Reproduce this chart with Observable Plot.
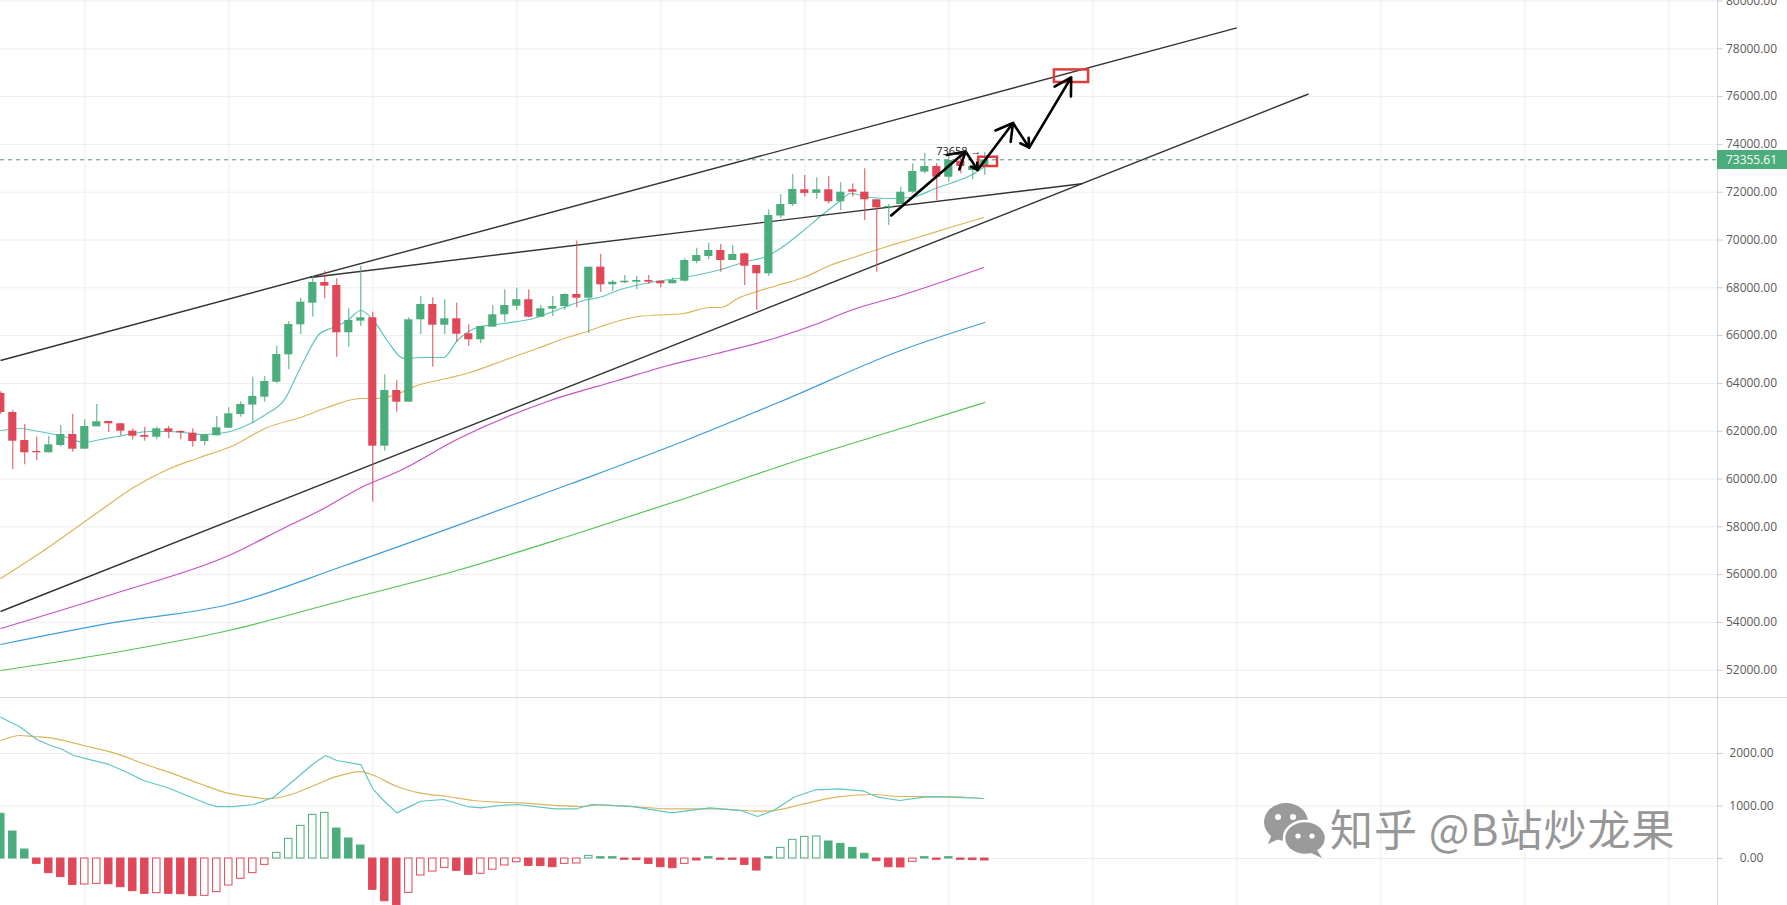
<!DOCTYPE html>
<html><head><meta charset="utf-8">
<script src="https://cdn.jsdelivr.net/npm/d3@7"></script>
<script src="https://cdn.jsdelivr.net/npm/@observablehq/plot@0.6"></script>
<style>
html,body{margin:0;padding:0;background:#fff;overflow:hidden;width:1787px;height:905px;}
#wrap{position:relative;width:1787px;height:905px;}
svg{display:block}
#sep{height:1px;background:#d8d8d8;}
#wm{position:absolute;left:1262px;top:800px;width:500px;height:62px;pointer-events:none;}
#wm span{position:absolute;left:68px;top:-4px;font-family:"Noto Sans CJK SC",sans-serif;font-size:43px;color:#8c8c8c;white-space:nowrap;letter-spacing:1px;opacity:.9}
</style></head>
<body><div id="wrap"><div id="main"></div><div id="sep"></div><div id="macd"></div>
<div id="wm"><svg width="66" height="60" viewBox="0 0 66 60">
<ellipse cx="24" cy="22" rx="22" ry="19" fill="#9a9a9a"/><path d="M10 34 L6 44 L19 38 Z" fill="#9a9a9a"/>
<ellipse cx="43" cy="38" rx="21" ry="17" fill="#9a9a9a" stroke="#fff" stroke-width="2.5"/><path d="M55 50 L60 58 L49 53 Z" fill="#9a9a9a"/>
<circle cx="16" cy="17" r="3" fill="#fff"/><circle cx="31" cy="17" r="3" fill="#fff"/>
<circle cx="36" cy="36" r="2.6" fill="#fff"/><circle cx="50" cy="36" r="2.6" fill="#fff"/></svg>
<span>知乎 @B站炒龙果</span></div>
</div>
<script>
// ---------- data ----------
const candleOpen  = [63577,62782,61611,61151,61097,61402,61862,61247,62184,62407,62311,62001,61820,61749,62100,61988,61917,61569,61808,62126,62699,63094,63423,64051,65197,66452,67356,68222,68097,66117,66603,66745,61373,63703,63214,66661,67301,66435,66703,66076,65825,66352,66871,67231,67500,66770,67105,67218,67720,67565,68862,68126,68210,68235,68305,68277,68168,68277,69100,69310,69561,69143,69422,68933,68586,71004,71487,72100,71950,72100,71600,72100,72000,71682,71347,71485,72000,72842,73075,72628,73297,72906,73075];
const candleHigh  = [63650,62866,62281,61750,61778,62239,62699,62477,63119,62407,62311,62100,62168,62168,62197,62030,62100,61850,62615,62980,63231,64260,64290,65556,66590,67565,68473,68695,68377,67122,68900,66979,64361,64110,66745,67636,67584,67500,67356,66452,66381,67260,67916,67984,67916,67260,67636,67749,69959,68862,69394,68305,68515,68473,68515,68277,68418,69214,69657,69867,69812,69771,69448,68933,71264,71900,72743,72700,72600,72650,72400,72350,72980,71682,71485,72210,73188,73627,73188,73606,73465,73256,73658];
const candleLow   = [62700,60398,60595,60775,61090,61331,61122,61247,62184,61946,61820,61641,61582,61641,61683,61641,61331,61402,61808,62126,62586,62311,63214,64000,64569,66046,66770,67540,65097,65515,66381,59030,61164,62796,63200,66046,64678,66046,65724,65544,65657,66352,66561,67051,66745,66770,66799,67051,67163,66076,67807,67858,68168,67916,68139,67999,68168,68235,69005,69172,68653,69143,68097,67051,68473,70900,71400,71800,71700,71500,71235,71800,70816,68653,70607,71485,71933,72770,71650,72418,72770,72519,72699];
const candleClose = [62782,61582,61097,61097,61431,61862,61247,62197,62395,62311,62001,61791,61749,62100,61959,61934,61569,61850,62143,62728,63119,63458,64080,65209,66465,67398,68222,68067,66117,66632,66745,61373,63703,63214,66661,67301,66435,66703,66059,65825,66381,66871,67260,67500,66770,67122,67218,67720,67565,68862,68126,68235,68277,68305,68235,68168,68305,69143,69352,69561,69143,69394,68904,68586,71025,71487,72115,71950,72100,71600,72000,72000,71682,71347,71402,72000,72866,73075,72628,73326,73075,73075,73355.61];

const maShortIdx = [0,1.64,2.73,4.14,5.56,6.9,8.3,9.7,11.06,12.5,13.9,15.2,16.6,18.06,19.4,20.8,22.2,23.6,24.98,26.6,27.7,28.9,30.0,31.06,32.2,33.6,35.0,36.9,38.05,39.7,41.9,44.4,46.9,48.6,50.0,51.4,54.1,56.9,59.7,62.5,63.3,64.7,66.6,68.6,70.0,70.8,72.5,74.1,75.8,78.1,79.1,80.8,81.9];
const maShortVal = [62030,62114,62030,61904,61737,61528,61653,61779,61904,61988,61988,61946,61862,61904,62030,62322,62741,63286,64667,66088,66339,66632,67051,66632,65795,65042,65084,65084,65795,66339,66507,66716,67176,67469,67615,67887,68222,68431,68724,69143,69227,69561,70272,71109,71653,71946,71779,71737,71779,72197,72364,72699,73034];
const maMidIdx = [0,4.14,8.3,11.06,13.9,16.6,19.4,22.2,24.98,27.2,30.0,31.4,32.7,34.7,37.5,39.1,41.9,44.7,47.2,48.6,50.0,53.1,56.9,59.1,60.0,61.4,64.7,66.9,69.1,70.8,73.6,76.4,79.1,81.9];
const maMidVal = [55838,57198,58682,59645,60398,60900,61402,62155,62574,62992,63369,63369,63494,63913,64248,64457,64960,65461,65921,66130,66381,66800,66925,67176,67176,67553,68097,68431,68933,69226,69686,70105,70523,70941];
const maLongIdx = [0,9.5,19.0,23.7,26.6,30.2,33.3,38.0,45.8,51.4,55.0,59.7,64.7,68.1,70.8,75.0,81.9];
const maLongVal = [53746,55211,56800,57972,58682,59687,60356,61653,63286,64123,64667,65251,65921,66507,67051,67678,68850];
const ma99Idx = [0,9.5,19,28.5,38,47.5,57,65.2,75,82];
const ma99Val = [53077,54000,54750,56350,58050,59800,61600,63286,65378,66548];
const ma200Idx = [0,9.5,19,28.5,38,47.5,57,66.9,75,82];
const ma200Val = [51988,52741,53662,54917,56173,57637,59185,60858,62114,63202];

const trendStartIdx = [-0.025,-0.025,25.8];
const trendStartVal = [64958,54457,68431];
const trendEndIdx   = [103.0,108.98,90.1];
const trendEndVal   = [78875,76109,72352];

const pathIdx   = [74.2,80.4,81.4,84.35,85.7,89.2];
const pathPrice = [71025,73703,72929,74896,73863,76806];
const boxIdx1 = [81.5,87.8], boxIdx2 = [83.06,90.65];
const boxLow  = [73075,76590], boxHigh = [73464,77117];
const highMarkLabel = "73658 →";
const lastPrice = 73355.61;

const priceTicks = d3.range(52000, 80001, 2000);
const macdTicks = [0, 1000, 2000];
const gridIdx = d3.range(7, 140, 12);

const macdHist = [851,514,171,-102,-279,-355,-502,-495,-483,-490,-546,-622,-673,-660,-673,-680,-717,-711,-641,-514,-387,-279,-121,108,375,622,832,870,571,381,248,-597,-813,-885,-654,-324,-248,-178,-235,-311,-290,-213,-133,-70,-140,-145,-165,-102,-95,51,25,25,-25,-30,-102,-165,-184,-102,-38,25,-25,-25,-121,-229,25,203,356,413,420,324,279,203,89,-51,-165,-170,-63,25,-25,25,-25,-30,-38];
const macdFilled = [1,1,1,1,1,1,1,0,0,1,1,1,1,0,1,1,1,0,0,0,0,0,0,0,0,0,0,0,1,1,1,1,1,1,0,0,0,0,1,1,0,0,0,0,1,1,1,0,0,0,1,1,1,1,1,1,1,0,1,1,1,1,1,1,1,0,0,0,0,1,1,1,1,1,1,1,0,1,1,1,1,1,1];
const difIdx = [0,1.64,3.03,4.14,5.0,6.08,7.5,8.87,10.5,11.9,13.9,15.5,17.2,18.0,19.4,21.1,22.75,24.4,26.1,27.06,28.0,30.0,31.0,31.9,33.0,35.0,36.9,38.9,40.0,41.6,43.0,46.2,48.0,49.2,52.7,55.9,59.1,61.7,63.06,64.4,66.1,67.9,69.9,71.95,73.1,74.9,76.95,79.0,81.9];
const difVal = [2691,2501,2261,2152,2090,1962,1880,1804,1644,1486,1347,1200,1042,990,990,1029,1168,1486,1815,1962,1867,1790,1328,1105,870,1091,1124,990,966,1010,1029,947,947,1029,990,870,966,914,800,914,1168,1309,1328,1282,1168,1105,1168,1168,1143];
const deaIdx = [0,1.64,2.75,4.14,6.9,9.7,11.9,14.4,16.6,18.9,21.1,22.2,23.9,26.1,27.8,30.0,31.1,33.0,35.0,37.2,39.4,41.6,43.3,46.2,48.3,49.8,52.7,55.6,59.7,63.2,64.4,66.7,69.6,72.6,74.9,79.0,81.9];
const deaVal = [2248,2343,2324,2299,2152,1994,1804,1613,1423,1244,1168,1137,1200,1390,1549,1657,1581,1371,1244,1181,1105,1072,1061,1010,990,1023,990,947,947,901,914,1029,1168,1219,1181,1181,1143];

// ---------- layout ----------
const W = 1787, MR = 70, H1 = 697, H2 = 207;
const X0 = -0.025, PX = 12;
const idxAt = px => X0 + px / PX;
const xDom = [X0, idxAt(W - MR)];
const up = "#4bad7c", down = "#e0485a";
const grid = "#eeeeee";
const font = "'Open Sans', sans-serif";

const candles = candleOpen.map((o, i) => ({i, o, h: candleHigh[i], l: candleLow[i], c: candleClose[i]}));
const ccol = d => d.c >= d.o ? up : down;
const pts = (ix, v) => ix.map((x, k) => ({x, y: v[k]}));
const trends = trendStartIdx.map((x, k) => ({x1: x, y1: trendStartVal[k], x2: trendEndIdx[k], y2: trendEndVal[k]}));
const segs = pathIdx.slice(1).map((x, k) => ({x1: pathIdx[k], y1: pathPrice[k], x2: x, y2: pathPrice[k + 1]}));
const boxes = boxIdx1.map((x, k) => ({x1: x, x2: boxIdx2[k], y1: boxLow[k], y2: boxHigh[k]}));
const maLine = (ix, v, color) => Plot.line(pts(ix, v), {x: "x", y: "y", stroke: color, strokeWidth: 1.2, curve: "monotone-x"});

const main = Plot.plot({
  width: W, height: H1, marginLeft: 0, marginRight: MR, marginTop: 0, marginBottom: 0,
  x: {domain: xDom, axis: null},
  y: {domain: [50858, 80021], axis: null},
  color: {type: "identity"},
  style: {fontFamily: font, background: "#fff"},
  marks: [
    Plot.ruleY(priceTicks, {stroke: grid}),
    Plot.ruleX(gridIdx, {stroke: grid}),
    maLine(ma200Idx, ma200Val, "#52c452"),
    maLine(ma99Idx, ma99Val, "#3d9edb"),
    maLine(maLongIdx, maLongVal, "#c64fc8"),
    maLine(maMidIdx, maMidVal, "#dcb55a"),
    maLine(maShortIdx, maShortVal, "#5ec6bd"),
    Plot.link(trends, {x1: "x1", y1: "y1", x2: "x2", y2: "y2", stroke: "#333", strokeWidth: 1.4}),
    Plot.ruleY([lastPrice], {stroke: "#4f8f88", strokeDasharray: "4,4"}),
    Plot.ruleX(candles, {x: "i", y1: "l", y2: "h", stroke: ccol}),
    Plot.rect(candles, {x1: d => d.i - 0.34, x2: d => d.i + 0.34, y1: "o", y2: "c", fill: ccol}),
    Plot.rect(boxes, {x1: "x1", x2: "x2", y1: "y1", y2: "y2", stroke: "#e03c3c", strokeWidth: 2.5, fill: "none"}),
    Plot.arrow(segs, {x1: "x1", y1: "y1", x2: "x2", y2: "y2", stroke: "#000", strokeWidth: 2.6, headLength: 11}),
    Plot.text([highMarkLabel], {x: () => idxAt(981), y: () => 73703, text: d => d, textAnchor: "end", fontSize: 11, fill: "#222"}),
    Plot.ruleX([xDom[1]], {stroke: "#d6d6d6"}),
    Plot.link(priceTicks, {x1: () => xDom[1], x2: () => idxAt(W - MR + 5), y1: d => d, y2: d => d, stroke: "#c8c8c8"}),
    Plot.text(priceTicks, {x: () => idxAt(1751), y: d => d, text: d => d.toFixed(2), fontSize: 12, fill: "#5a5a5a", textAnchor: "middle"}),
    Plot.rect([lastPrice], {x1: () => xDom[1], x2: () => idxAt(W), y1: () => 72950, y2: () => 73745, fill: up}),
    Plot.text([lastPrice], {x: () => idxAt(1751), y: d => d, text: d => d.toFixed(2), fontSize: 12, fill: "#fff", textAnchor: "middle"})
  ]
});
document.getElementById("main").appendChild(main);

const hist = macdHist.map((v, i) => ({i, v, f: macdFilled[i]}));
const hcol = d => d.v >= 0 ? up : down;
const macd = Plot.plot({
  width: W, height: H2, marginLeft: 0, marginRight: MR, marginTop: 0, marginBottom: 0,
  x: {domain: xDom, axis: null},
  y: {domain: [-895, 3048], axis: null},
  color: {type: "identity"},
  style: {fontFamily: font, background: "#fff"},
  marks: [
    Plot.ruleY(macdTicks, {stroke: grid}),
    Plot.ruleX(gridIdx, {stroke: grid}),
    Plot.rect(hist, {x1: d => d.i - 0.31, x2: d => d.i + 0.31, y1: () => 0, y2: "v", fill: d => d.f ? hcol(d) : "#fff", stroke: hcol, strokeWidth: 1}),
    Plot.line(pts(deaIdx, deaVal), {x: "x", y: "y", stroke: "#dcb55a", strokeWidth: 1.2, curve: "monotone-x"}),
    Plot.line(pts(difIdx, difVal), {x: "x", y: "y", stroke: "#5ec6c4", strokeWidth: 1.2}),
    Plot.ruleX([xDom[1]], {stroke: "#d6d6d6"}),
    Plot.link(macdTicks, {x1: () => xDom[1], x2: () => idxAt(W - MR + 5), y1: d => d, y2: d => d, stroke: "#c8c8c8"}),
    Plot.text(macdTicks, {x: () => idxAt(1751), y: d => d, text: d => d.toFixed(2), fontSize: 12, fill: "#5a5a5a", textAnchor: "middle"})
  ]
});
document.getElementById("macd").appendChild(macd);
</script>
</body></html>
